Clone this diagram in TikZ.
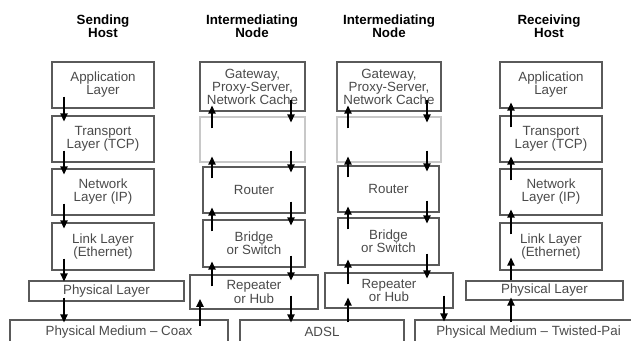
\documentclass[tikz,border=0pt]{standalone}
\usepackage{fontspec}
\setmainfont{Liberation Sans}
\usepackage{xcolor}
\usetikzlibrary{arrows.meta}

\definecolor{boxgray}{HTML}{5A5A5A}
\definecolor{txtgray}{HTML}{4A4A4A}
\definecolor{ghost}{HTML}{C8C8C8}

\tikzset{
	layer/.style={draw=boxgray, line width=0.9pt, inner sep=0pt, align=center, text=txtgray, font=\fontsize{10}{9.8}\selectfont},
	blank/.style={layer, draw=ghost},
	sz/.style 2 args={minimum width=#1*0.75pt, minimum height=#2*0.75pt},
	head/.style={align=center, font=\bfseries\fontsize{10}{10}\selectfont},
	arr/.style={-{Triangle[length=6pt,width=5.5pt]}, line width=1.1pt, shorten <=-9pt, shorten >=-4.5pt},
}

\begin{document}
\begin{tikzpicture}[x=0.75pt, y=-0.75pt]
			\useasboundingbox (0,0) rectangle (631,340);
			\clip (0,0) rectangle (631,340);
			% headings
			\node[head] (hsend) at (103,26) {Sending\\Host};
			\node[head] (hmida) at (252,26) {Intermediating\\Node};
			\node[head] (hmidb) at (389,26) {Intermediating\\Node};
			\node[head] (hrecv) at (549,26) {Receiving\\Host};
			% sending host
			\node[layer, sz={102}{46}] (sapp) at (103,85) {Application\\Layer};
			\node[layer, sz={102}{46}] (stcp) at (103,139) {Transport\\Layer (TCP)};
			\node[layer, sz={102}{46}] (sip) at (103,192) {Network\\Layer (IP)};
			\node[layer, sz={102}{47}] (slink) at (103,246.5) {Link Layer\\(Ethernet)};
			\node[layer, sz={155}{20}] (sphy) at (106.5,291) {Physical Layer};
			% first intermediating node
			\node[layer, sz={105}{49}] (agw) at (252.5,86.5) {Gateway,\\Proxy-Server,\\Network Cache};
			\node[blank, sz={105}{45}] (aemp) at (252.5,139.5) {};
			\node[layer, sz={102}{46}] (arout) at (254,190) {Router};
			\node[layer, sz={102}{47}] (abr) at (254,243.5) {Bridge\\or Switch};
			\node[layer, sz={128}{34}] (arep) at (254,292) {Repeater\\or Hub};
			% second intermediating node
			\node[layer, sz={104}{49}] (bgw) at (389,86.5) {Gateway,\\Proxy-Server,\\Network Cache};
			\node[blank, sz={104}{45}] (bemp) at (389,139.5) {};
			\node[layer, sz={101}{46}] (brout) at (388.5,189) {Router};
			\node[layer, sz={101}{47}] (bbr) at (388.5,241.5) {Bridge\\or Switch};
			\node[layer, sz={128}{35}] (brep) at (389,290.5) {Repeater\\or Hub};
			% receiving host
			\node[layer, sz={102}{46}] (rapp) at (551,85) {Application\\Layer};
			\node[layer, sz={102}{46}] (rtcp) at (551,139) {Transport\\Layer (TCP)};
			\node[layer, sz={102}{46}] (rip) at (551,192) {Network\\Layer (IP)};
			\node[layer, sz={102}{47}] (rlink) at (551,246.5) {Link Layer\\(Ethernet)};
			\node[layer, sz={157}{19}] (rphy) at (544.5,290.5) {Physical Layer};
			% media
			\node[layer, sz={218}{24}] (coax) at (119,332) {Physical Medium – Coax};
			\node[layer, sz={164}{24}] (adsl) at (322,332) {ADSL};
			\node[layer, sz={227}{24}] (twisted) at (528.5,332) {Physical Medium – Twisted-Pai};
			% arrow columns
			\coordinate (sx) at (64,0);
			\coordinate (alx) at (212,0);
			\coordinate (arx) at (291,0);
			\coordinate (ain) at (200,0);
			\coordinate (blx) at (348,0);
			\coordinate (brx) at (427,0);
			\coordinate (bout) at (444,0);
			\coordinate (rx) at (511,0);
			% down the sending stack
			\draw[arr] (sx |- sapp.south) -- (sx |- stcp.north);
			\draw[arr] (sx |- stcp.south) -- (sx |- sip.north);
			\draw[arr] (sx |- sip.south) -- (sx |- slink.north);
			\draw[arr, shorten >=-0.75pt] (sx |- slink.south) -- (sx |- sphy.north);
			\draw[arr, shorten <=-3pt, shorten >=-2.25pt] (sx |- sphy.south) -- (sx |- coax.north);
			% through the first node
			\draw[arr, shorten <=-5pt, shorten >=-8pt] (ain |- coax.north) -- (ain |- arep.south);
			\draw[arr] (alx |- arep.north) -- (alx |- abr.south);
			\draw[arr] (alx |- abr.north) -- (alx |- arout.south);
			\draw[arr] (alx |- arout.north) -- (alx |- aemp.south);
			\draw[arr] (alx |- aemp.north) -- (alx |- agw.south);
			\draw[arr] (arx |- agw.south) -- (arx |- aemp.north);
			\draw[arr] (arx |- aemp.south) -- (arx |- arout.north);
			\draw[arr] (arx |- arout.south) -- (arx |- abr.north);
			\draw[arr] (arx |- abr.south) -- (arx |- arep.north);
			\draw[arr, shorten <=-10.5pt, shorten >=-2.25pt] (arx |- arep.south) -- (arx |- adsl.north);
			% through the second node
			\draw[arr, shorten <=-2.25pt, shorten >=-8.25pt] (blx |- adsl.north) -- (blx |- brep.south);
			\draw[arr] (blx |- brep.north) -- (blx |- bbr.south);
			\draw[arr] (blx |- bbr.north) -- (blx |- brout.south);
			\draw[arr] (blx |- brout.north) -- (blx |- bemp.south);
			\draw[arr] (blx |- bemp.north) -- (blx |- bgw.south);
			\draw[arr] (brx |- bgw.south) -- (brx |- bemp.north);
			\draw[arr] (brx |- bemp.south) -- (brx |- brout.north);
			\draw[arr] (brx |- brout.south) -- (brx |- bbr.north);
			\draw[arr] (brx |- bbr.south) -- (brx |- brep.north);
			\draw[arr, shorten <=-9.75pt, shorten >=-1.5pt] (bout |- brep.south) -- (bout |- twisted.north);
			% up the receiving stack
			\draw[arr, shorten <=-2.25pt, shorten >=-2.25pt] (rx |- twisted.north) -- (rx |- rphy.south);
			\draw[arr, shorten <=0pt, shorten >=-9.75pt] (rx |- rphy.north) -- (rx |- rlink.south);
			\draw[arr] (rx |- rlink.north) -- (rx |- rip.south);
			\draw[arr] (rx |- rip.north) -- (rx |- rtcp.south);
			\draw[arr] (rx |- rtcp.north) -- (rx |- rapp.south);
		\end{tikzpicture}
\end{document}
